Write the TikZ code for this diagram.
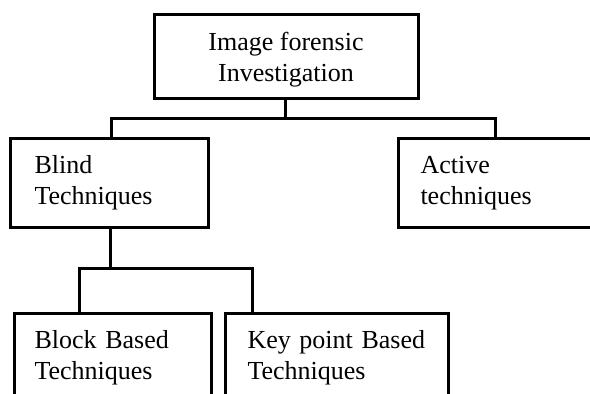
\documentclass[tikz,border=0pt]{standalone}
\usepackage{fontspec}
\setmainfont{Liberation Serif}
\usepackage{tikz}

\begin{document}
\begin{tikzpicture}[
  x=1pt, y=-1pt,
  stage/.style={draw, line width=3pt, rectangle, inner ysep=0pt,
                font=\fontsize{26}{31}\selectfont},
  branch/.style={stage, anchor=north west, align=left},
  link/.style={draw, line width=3pt}
]
\useasboundingbox (0,0) rectangle (590,394);
\clip (0,0) rectangle (590,394);
\node[stage, align=center, minimum width=264pt, minimum height=84pt] (root) at (286,56) {\rule{0pt}{26pt}Image forensic\\Investigation};
\node[branch, inner xsep=24pt, text width=150pt, minimum height=89pt] (blind) at (9,137) {Blind\\Techniques};
\node[branch, inner xsep=22pt, text width=186pt, minimum height=89pt] (active) at (397,137) {Active\\techniques};
\node[branch, inner xsep=20pt, text width=157pt, minimum height=88pt] (block) at (13,312) {Block Based\\Techniques};
\node[branch, inner xsep=22pt, text width=179pt, minimum height=88pt] (keypt) at (224,312) {Key point Based\\Techniques};
\coordinate (j1) at (285,118);
\coordinate (j2) at (110,268);
\draw[link] (root.south -| j1) -- (j1);
\draw[link] (blind.north -| 111,0) |- (j1) -| (active.north -| 495,0);
\draw[link] (blind.south -| j2) -- (j2);
\draw[link] (block.north -| 79,0) |- (j2) -| (keypt.north -| 252,0);
\end{tikzpicture}
\end{document}
